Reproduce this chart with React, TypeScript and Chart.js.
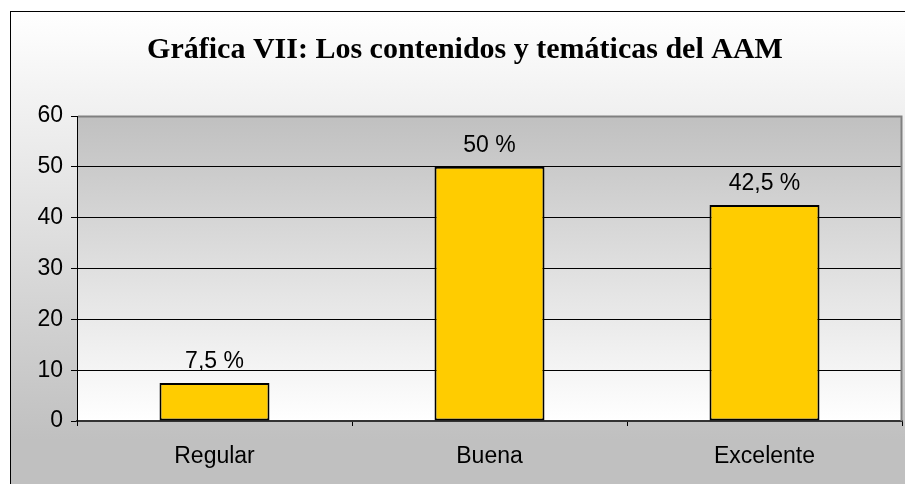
import React, { useEffect, useRef } from 'react';
import { Chart, registerables } from 'chart.js';
Chart.register(...registerables);

const categories = ['Regular', 'Buena', 'Excelente'];
const values = [7.5, 50, 42.5];
const valueLabels = ['7,5 %', '50 %', '42,5 %'];
const yMin = 0;
const yMax = 60;
const yStep = 10;
const chartTitle = 'Gráfica VII: Los contenidos y temáticas del AAM';

const W = 905;
const H = 484;
const FONT = '"Liberation Sans", Arial, sans-serif';

const bgPlugin = {
  id: 'bgPlugin',
  beforeDraw(chart: any) {
    const { ctx, chartArea } = chart;
    ctx.save();
    ctx.fillStyle = '#ffffff';
    ctx.fillRect(0, 0, W, H);
    // outer frame
    const g = ctx.createLinearGradient(0, 11, 0, 440);
    g.addColorStop(0, '#ffffff');
    g.addColorStop(1, '#c0c0c0');
    ctx.fillStyle = g;
    ctx.fillRect(10, 11, W + 20, H + 20);
    ctx.strokeStyle = '#000000';
    ctx.lineWidth = 1;
    ctx.strokeRect(10.5, 11.5, W + 20, H + 20);
    // plot area
    const pg = ctx.createLinearGradient(0, chartArea.top, 0, chartArea.bottom);
    pg.addColorStop(0, '#c0c0c0');
    pg.addColorStop(1, '#ffffff');
    ctx.fillStyle = pg;
    ctx.fillRect(chartArea.left, chartArea.top, chartArea.right - chartArea.left, chartArea.bottom - chartArea.top);
    // title
    ctx.fillStyle = '#000000';
    ctx.font = 'bold 30px "Liberation Serif", "Times New Roman", serif';
    ctx.textAlign = 'center';
    ctx.textBaseline = 'alphabetic';
    ctx.fillText(chartTitle, 465, 58);
    ctx.restore();
  },
  beforeDatasetsDraw(chart: any) {
    const { ctx, chartArea } = chart;
    ctx.save();
    ctx.strokeStyle = '#808080';
    ctx.lineWidth = 2;
    ctx.beginPath();
    ctx.moveTo(chartArea.left + 1, chartArea.top + 0.5);
    ctx.lineTo(chartArea.right - 0.5, chartArea.top + 0.5);
    ctx.lineTo(chartArea.right - 0.5, chartArea.bottom);
    ctx.stroke();
    ctx.restore();
  },
  afterDatasetsDraw(chart: any) {
    const { ctx } = chart;
    const meta = chart.getDatasetMeta(0);
    ctx.save();
    ctx.fillStyle = '#000000';
    ctx.font = '23px ' + FONT;
    ctx.textAlign = 'center';
    ctx.textBaseline = 'alphabetic';
    meta.data.forEach((bar: any, i: number) => {
      ctx.fillText(valueLabels[i], bar.x, bar.y - 15);
    });
    ctx.restore();
  },
};

export default function App() {
  const ref = useRef<HTMLCanvasElement>(null);
  useEffect(() => {
    if (!ref.current) return;
    const chart = new Chart(ref.current, {
      type: 'bar',
      data: {
        labels: categories,
        datasets: [
          {
            data: values,
            backgroundColor: '#FFCC00',
            borderColor: '#000000',
            borderWidth: 2,
            borderSkipped: false,
            categoryPercentage: 1,
            barPercentage: 0.4,
          },
        ],
      },
      options: {
        responsive: false,
        animation: false,
        devicePixelRatio: 1,
        layout: { padding: { top: 116, right: 3, left: 0, bottom: 0 } },
        plugins: {
          legend: { display: false },
          title: { display: false },
          tooltip: { enabled: false },
        },
        scales: {
          x: {
            grid: {
              drawOnChartArea: false,
              drawTicks: true,
              tickLength: 5,
              color: '#000000',
            },
            border: { color: '#333333', width: 2 },
            ticks: {
              color: '#000000',
              padding: 17,
              font: { family: FONT, size: 23 },
            },
            afterFit: (s: any) => {
              s.height = 63;
            },
          },
          y: {
            min: yMin,
            max: yMax,
            ticks: {
              stepSize: yStep,
              color: '#000000',
              padding: 8,
              font: { family: FONT, size: 23 },
            },
            grid: { color: '#000000', lineWidth: 1, tickLength: 6 },
            border: { color: '#000000', width: 1 },
            afterFit: (s: any) => {
              s.width = 77;
            },
          },
        },
      },
      plugins: [bgPlugin],
    });
    return () => chart.destroy();
  }, []);
  return (
    <div style={{ position: 'fixed', left: 0, top: 0, width: W, height: H }}>
      <canvas ref={ref} width={W} height={H} style={{ display: 'block', width: W, height: H }} />
    </div>
  );
}
